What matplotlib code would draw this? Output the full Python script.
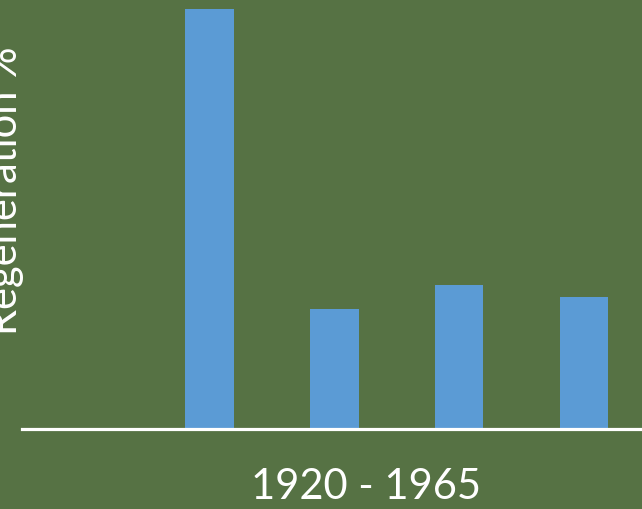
import matplotlib
matplotlib.use("Agg")
import matplotlib.pyplot as plt

# regeneration per period, first slot empty
periods = ["", "1920", "1935", "1950", "1965"]
regen = [0, 88, 25.2, 30.3, 27.7]

bg = "#567244"
bar_color = "#5B9BD5"

fig = plt.figure(figsize=(6.42, 5.09), dpi=100, facecolor=bg)
ax = fig.add_axes([22 / 642, 0.1562, 624.4 / 642, 0.8261])
ax.set_facecolor(bg)

ax.bar(range(len(regen)), regen, width=0.39, color=bar_color)
ax.set_xlim(-0.5, len(regen) - 0.5)
ax.set_ylim(0, max(regen))

for side in ["top", "right", "left"]:
    ax.spines[side].set_visible(False)
ax.spines["bottom"].set_color("white")
ax.spines["bottom"].set_linewidth(2.3)
ax.set_xticks([])
ax.set_yticks([])

fig.text(365.7 / 642, 1 - 487 / 509, "1920 - 1965", color="white",
         fontsize=30, family="Lato", ha="center", va="center")
fig.text(24 / 642, 1 - 191 / 509, "Regeneration %", color="white",
         fontsize=30, family="Lato", rotation=90, ha="right", va="center")

fig.savefig("out.png", dpi=100, facecolor=bg)
